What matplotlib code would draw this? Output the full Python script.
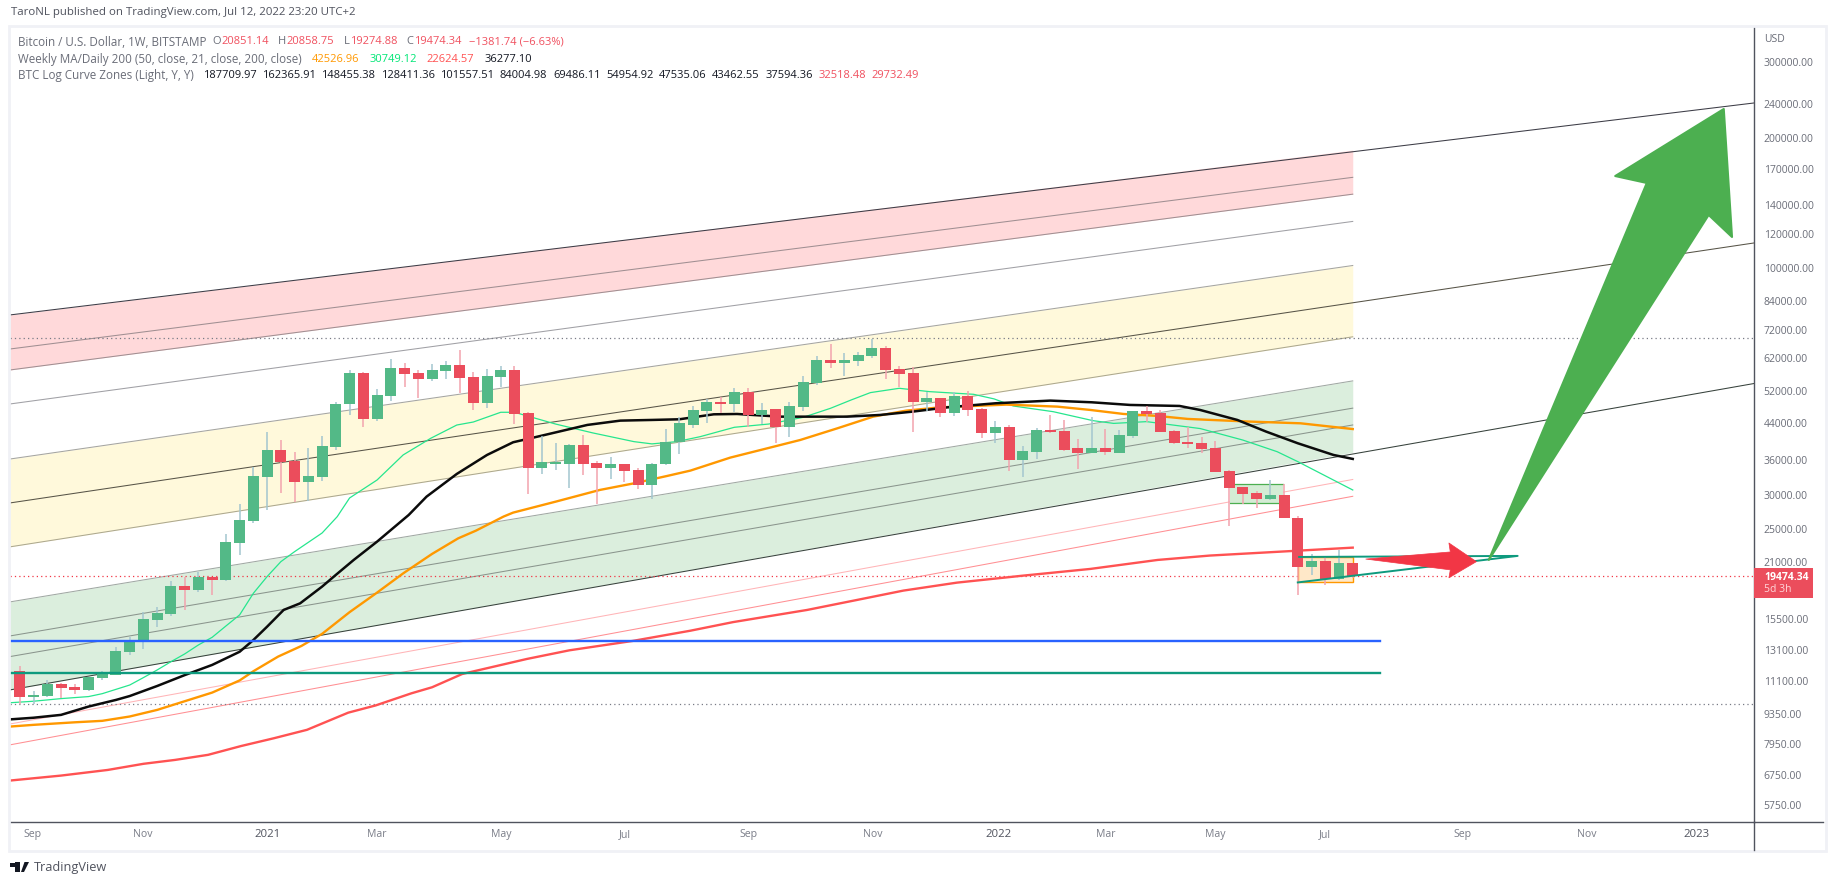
import matplotlib
matplotlib.use('Agg')
import matplotlib.pyplot as plt
from matplotlib.patches import Polygon, Rectangle
from matplotlib.lines import Line2D

W, H = 1834, 885
FONT = 'Open Sans'
plt.rcParams['font.family'] = [FONT, 'DejaVu Sans']

# weekly candles, first one is the week of Aug 31 2020
opens = [11740, 10220, 10280, 10950, 10780, 10610, 11310, 11490, 12985, 13700,
         15400, 15900, 18450, 18060, 19360, 19000, 23250, 26040, 32960, 38050,
         35900, 32090, 32960, 38660, 48600, 57330, 44880, 50730, 58880, 57330,
         55520, 57940, 59820, 56120, 48870, 56120, 58260, 46330, 34580, 35400,
         35400, 39060, 35510, 34580, 35320, 34200, 31590, 35320, 39700, 43460,
         46840, 49130, 48590, 51810, 45820, 47330, 43030, 47810, 54370, 61430,
         60450, 61100, 62740, 65480, 58550, 57320, 49120, 50180, 46330, 50720,
         47320, 41660, 43000, 36070, 37650, 42320, 42100, 38460, 37440, 38460,
         37440, 40990, 46820, 46330, 42100, 39710, 39500, 38470, 34030, 31250,
         30270, 29320, 29950, 26490, 20410, 21080, 19170, 20851.14]
highs = [12050, 10550, 11190, 11000, 10950, 11370, 11740, 13340, 14070, 16070,
         16500, 18950, 19360, 19880, 19360, 24320, 28500, 34800, 41900, 40200,
         37600, 38400, 41000, 49000, 58260, 57730, 52650, 61760, 60460, 58260,
         60140, 61110, 64790, 57630, 58560, 59500, 59500, 46580, 41000, 39490,
         39180, 41210, 35800, 36660, 35320, 34600, 35500, 42550, 45360, 48090,
         49910, 50450, 52900, 52940, 48870, 47330, 49130, 56410, 62750, 66890,
         63750, 64100, 68690, 66180, 59500, 59180, 51810, 50180, 51810, 52080,
         47500, 44400, 43450, 38870, 42760, 45840, 44640, 40350, 45350, 42550,
         42320, 46820, 48090, 47080, 42300, 43000, 40850, 39920, 34200, 31250,
         30590, 32440, 31760, 26800, 21870, 21530, 22350, 20858.75]
lows = [9850, 9850, 10200, 10170, 10385, 10550, 11190, 11480, 12780, 13200,
        14830, 15750, 16240, 17900, 17590, 18900, 21800, 25740, 27700, 30200,
        28800, 29000, 32260, 38050, 45900, 43000, 44500, 49400, 53200, 50180,
        54950, 55430, 51540, 47080, 47500, 53200, 43700, 30110, 33490, 34200,
        31080, 33310, 28550, 32600, 32090, 30920, 29310, 35100, 37250, 42770,
        43920, 46330, 46580, 43020, 43700, 39500, 40760, 46840, 53780, 58860,
        56410, 59490, 62090, 55520, 53210, 41870, 46820, 45350, 45590, 45590,
        40560, 39500, 34030, 32970, 36270, 41600, 37850, 34390, 37440, 37060,
        37440, 40560, 44160, 41870, 39280, 38460, 37450, 33850, 25400, 28540,
        27950, 29160, 26490, 17590, 19570, 18550, 19000, 19274.88]
closes = [10220, 10330, 10950, 10720, 10610, 11370, 11610, 13050, 13770, 15480,
          15980, 18450, 18060, 19360, 19050, 23300, 26220, 33110, 38050, 35700,
          32080, 33110, 38860, 48600, 57330, 44880, 51000, 58880, 57020, 55520,
          58260, 59820, 55820, 48870, 56420, 58260, 46080, 34580, 35700, 35700,
          39060, 35320, 34580, 35320, 34030, 31590, 35320, 39700, 43930, 47070,
          49130, 48590, 51810, 45820, 47070, 43030, 48090, 54650, 61430, 60450,
          61430, 63070, 65480, 58250, 57010, 49120, 50180, 46330, 50720, 47070,
          41660, 43000, 36070, 37850, 42320, 41870, 38050, 37440, 38460, 37650,
          41210, 46820, 46070, 41870, 39500, 39280, 38260, 33850, 31090, 30110,
          29320, 29950, 26490, 20410, 21080, 19170, 20850, 19474.34]

# moving averages: bar number, price
ma_green_x = [-0.7, 1, 3, 5, 6, 8, 9, 10, 11, 12, 13, 14, 15, 16, 17, 18, 19, 20, 22, 23.1, 24, 26, 27.9, 29.9, 31.8,
              33, 35, 36, 39, 41.7, 44.7, 46, 47.8, 49.5, 52, 54.5, 57, 59, 60.5, 61.9, 64, 66.2, 69.4, 70.9, 72.3,
              75.2, 78.1, 79.6, 82, 85.9, 89, 91.5, 93, 97]
ma_green_y = [9910, 9990, 10130, 10240, 10400, 10890, 11330, 11800, 12330, 12850, 13480, 14040, 14910, 15820, 17750,
              19400, 21000, 22150, 24460, 26680, 29470, 32430, 37060, 40480, 43450,
              44150, 46500, 46500, 43670, 41660, 39770, 39300, 39770, 40830, 42930, 43680, 45260, 47500, 49650, 51630,
              52830, 51900, 51170, 49930, 48080, 46650, 44470, 43830, 44240, 42640, 40110, 37700, 35760, 30749.12]
ma_black_x = [-0.7, 1, 3, 5, 7, 8, 10, 12, 14, 16, 17, 18, 19.2, 20.4, 22, 23, 24.3, 26, 28.3, 29.6, 31.8, 34, 35.9,
              37.9, 41.3, 43.7, 46, 48, 50.5, 52.2, 55.3, 57.7, 60.2, 62.6, 65, 67.5, 71, 75, 78, 80.8, 84.4, 85.9,
              88.6, 90.7, 93, 95.6, 97]
ma_black_y = [9070, 9150, 9290, 9710, 10060, 10270, 10835, 11480, 12120, 13000, 13840, 14860, 16240, 16820, 18390,
              19570, 21190, 23360, 26920, 29680, 33490, 37050, 39640, 41000, 43470, 44480, 44640, 44800, 46000, 46080,
              45430, 45430, 45430, 45840, 46670, 47740, 48780, 49480, 49040, 48350, 48090, 47070, 44640, 41950, 39430,
              37050, 36277.10]
ma_orange_x = [-0.7, 1, 4, 6, 8, 10, 12, 14, 16, 17, 18.8, 20.5, 22, 24, 26, 27.9, 30, 31.9, 33.2, 35.2, 35.9, 39,
               42.2, 44.7, 47.1, 48.8, 51.7, 54.4, 56.8, 59.5, 62.1, 64.5, 67, 71.8, 75.5, 77.9, 80.3, 82.8, 85, 89.5,
               93.2, 97]
ma_orange_y = [8730, 8810, 8930, 9000, 9210, 9540, 9990, 10460, 11160, 11720, 12670, 13410, 14300, 16050, 17810,
               19730, 21880, 23770, 24770, 26690, 27260, 28900, 30750, 31860, 33130, 34090, 36530, 38390, 40130, 42700,
               45430, 46910, 47750, 48430, 47920, 47080, 46090, 45600, 44880, 44250, 43850, 42526.96]
ma_red_x = [-0.7, 3, 6.4, 9, 11.3, 13.7, 16.1, 18.5, 20.9, 23.9, 25.9, 28.5, 30, 32.2, 36.9, 40, 44.6, 48.8, 51.9, 57.3,
            60.9, 64.3, 68.2, 73, 77.9, 82.8, 86.6, 97]
ma_red_y = [6550, 6725, 6930, 7160, 7310, 7510, 7870, 8205, 8580, 9400, 9770, 10420, 10760, 11550, 12510, 13100, 13770,
            14540, 15220, 16240, 17120, 18000, 18780, 19490, 20200, 21190, 21690, 22624.57]

# log curve zones: price at the left edge and at the last bar
curve_left = [78060, 65120, 58240, 48600, 36260, 28700, 22720, 16950, 14140, 12670, 10610, 8850, 7920]
curve_right = [187709.97, 162365.91, 148455.38, 128411.36, 101557.51, 84004.98, 69486.11, 54954.92, 47535.06,
               43462.55, 37594.36, 32518.48, 29732.49]
curve_colors = ['#3c3c46', '#a08f92', '#a08f92', '#a0a0a5', '#a5a5a0', '#575447', '#aca88f', '#a0a8a3', '#8a958d',
                '#8a958d', '#37423c', '#ffb5b8', '#ff8f93']
edge_prices = {0: 241200, 5: 114500, 10: 54190}

# drawings on the chart
level_top = 69060
level_bottom = 9830
level_blue = 13790
level_teal = 11640
green_box_x = [88.1, 91.9]
green_box_y = [28700, 31750]
orange_box_x = [93.0, 97.0]
orange_box_y = [18850, 21530]
tri_x = [93.1, 109.0, 93.0]
tri_y = [21530, 21650, 18800]
red_arrow_x = [97.95, 104.1, 104.0, 106.0, 104.0, 104.1]
red_arrow_y = [21290, 22110, 23190, 21000, 19270, 20100]
green_arrow_x = [106.9, 118.4, 116.1, 124.0, 124.6, 122.9]
green_arrow_y = [21190, 157560, 163500, 233600, 118200, 132900]

price_ticks = [300000, 240000, 200000, 170000, 140000, 120000, 100000, 84000, 72000, 62000, 52000, 44000, 36000, 30000,
               25000, 21000, 15500, 13100, 11100, 9350, 7950, 6750, 5750]
time_ticks = [0.96, 8.97, 18, 26, 35, 44, 53, 62.1, 71.2, 79, 87, 95, 105, 114, 122]
time_labels = ['Sep', 'Nov', '2021', 'Mar', 'May', 'Jul', 'Sep', 'Nov', '2022', 'Mar', 'May', 'Jul', 'Sep', 'Nov', '2023']

UP = '#53b987'
DOWN = '#eb4d5c'
UP_WICK = '#a3c6cf'
DOWN_WICK = '#f2a3ae'
GREY = '#6a6d78'


def px_x(x):
    return x / W


def px_y(y):
    return 1 - y / H


fig = plt.figure(figsize=(W / 100, H / 100), dpi=100, facecolor='white')

# light frame around the whole chart
fig.add_artist(Rectangle((px_x(8.5), px_y(851)), px_x(1817), 825 / H, transform=fig.transFigure,
                         fill=False, ec='#f0f1f6', lw=2))

ax = fig.add_axes([px_x(10), px_y(822), px_x(1744), 795 / H])
ax.set_yscale('log')
ax.set_xlim(-0.713, 126.2)
ax.set_ylim(5253, 361400)
last = len(opens) - 1
xl = -0.713

# zones
ax.fill_between([xl, last], [curve_left[0], curve_right[0]], [curve_left[2], curve_right[2]],
                color='#ffd9da', lw=0, zorder=1)
ax.fill_between([xl, last], [curve_left[4], curve_right[4]], [curve_left[6], curve_right[6]],
                color='#fff9db', lw=0, zorder=1)
ax.fill_between([xl, last], [curve_left[7], curve_right[7]], [curve_left[10], curve_right[10]],
                color='#dbeedd', lw=0, zorder=1)
for i in range(len(curve_left)):
    xs = [xl, last]
    ys = [curve_left[i], curve_right[i]]
    if i in edge_prices:
        xs = [xl, 126.2]
        ys = [curve_left[i], edge_prices[i]]
    ax.plot(xs, ys, color=curve_colors[i], lw=0.75, zorder=2)

# levels
ax.axhline(level_top, color='#787b86', lw=0.9, ls=(0, (1, 2.5)), zorder=3)
ax.axhline(level_bottom, color='#787b86', lw=0.9, ls=(0, (1, 2.5)), zorder=3)
ax.axhline(closes[-1], color='#f23645', lw=0.9, ls=(0, (1, 2.5)), zorder=3)

# moving averages
ax.plot(ma_red_x, ma_red_y, color='#ff5252', lw=1.7, zorder=4)
ax.plot(ma_green_x, ma_green_y, color='#26e68e', lw=0.9, zorder=4)
ax.plot(ma_orange_x, ma_orange_y, color='#ff9800', lw=1.7, zorder=4)
ax.plot(ma_black_x, ma_black_y, color='#0b0b0b', lw=1.8, zorder=4)

# boxes go under the candles
ax.add_patch(Rectangle((green_box_x[0], green_box_y[0]), green_box_x[1] - green_box_x[0], green_box_y[1] - green_box_y[0],
                       fc='#d4ecd5', ec='none', zorder=4.5))
for level in green_box_y:
    ax.plot(green_box_x, [level, level], color='#4caf50', lw=0.9, zorder=4.6)
ax.add_patch(Rectangle((orange_box_x[0], orange_box_y[0]), orange_box_x[1] - orange_box_x[0],
                       orange_box_y[1] - orange_box_y[0], fc='#ffe8c8', ec='#ff9800', lw=1, zorder=4.5))

# candles
for i in range(len(opens)):
    up = closes[i] >= opens[i]
    ax.vlines(i, lows[i], highs[i], color=UP_WICK if up else DOWN_WICK, lw=1.1, zorder=5)
    ax.bar(i, abs(closes[i] - opens[i]), bottom=min(opens[i], closes[i]), width=0.8,
           color=UP if up else DOWN, lw=0, zorder=6)

# horizontal lines and arrows sit on top
ax.plot([xl, 99], [level_blue, level_blue], color='#2962ff', lw=1.7, zorder=7)
ax.plot([xl, 99], [level_teal, level_teal], color='#0e9a7e', lw=1.7, zorder=7)
ax.plot(tri_x, tri_y, color='#0e9a7e', lw=1.4, zorder=7)
ax.add_patch(Polygon(list(zip(red_arrow_x, red_arrow_y)), closed=True, fc='#f23645', ec='#f23645', lw=0.5,
                     joinstyle='round', zorder=8))
ax.add_patch(Polygon(list(zip(green_arrow_x, green_arrow_y)), closed=True, fc='#4caf50', ec='#4caf50', lw=1.5,
                     joinstyle='round', zorder=8))

ax.set_yticks(price_ticks)
ax.set_yticklabels(['%.2f' % p for p in price_ticks], fontsize=7.5, color=GREY)
ax.minorticks_off()
ax.yaxis.tick_right()
ax.tick_params(axis='y', length=0, pad=7)
ax.set_xticks(time_ticks)
ax.set_xticklabels(time_labels, fontsize=7.6, color='#7a7d88')
for lab in ax.get_xticklabels():
    if lab.get_text().startswith('20'):
        lab.set_color('#50535e')
        lab.set_fontsize(8.2)
ax.tick_params(axis='x', length=0, pad=5)
for side in ['top', 'left']:
    ax.spines[side].set_visible(False)
for side in ['right', 'bottom']:
    ax.spines[side].set_color('#50535e')
    ax.spines[side].set_linewidth(1)

# the axis lines run on into the price and time panels
fig.add_artist(Line2D([px_x(1754), px_x(1823)], [px_y(822), px_y(822)], color='#50535e', lw=1))
fig.add_artist(Line2D([px_x(1754), px_x(1754)], [px_y(822), px_y(850)], color='#50535e', lw=1))

fig.text(px_x(1764), px_y(40), 'USD', fontsize=7.5, color=GREY, va='center')

# last price tag
fig.add_artist(Rectangle((px_x(1754), px_y(598)), 59 / W, 30 / H, transform=fig.transFigure, fc=DOWN, ec='none'))
fig.text(px_x(1764), px_y(577), '19474.34', fontsize=7.5, color='white', va='center', fontweight='bold')
fig.text(px_x(1764), px_y(590), '5d 3h', fontsize=7.5, color='#ffd5d9', va='center')

renderer = fig.canvas.get_renderer()
LABEL = 8.4
NUM = 8.0


def text_run(x, y, parts):
    # several colours on one row, each piece: text, colour, size, gap to the next one in pixels
    for s, color, size, gap in parts:
        t = fig.text(px_x(x), px_y(y), s, fontsize=size, color=color, va='center')
        x += t.get_window_extent(renderer).width + gap


RED = '#f0505f'
fig.text(px_x(11), px_y(13), 'TaroNL published on TradingView.com, Jul 12, 2022 23:20 UTC+2', fontsize=8.25,
         color='#50535e', va='center')
text_run(18, 42, [('Bitcoin / U.S. Dollar, 1W, BITSTAMP', GREY, LABEL, 6),
                  ('O', GREY, NUM, 0.5), ('20851.14', RED, NUM, 9),
                  ('H', GREY, NUM, 0.5), ('20858.75', RED, NUM, 9),
                  ('L', GREY, NUM, 0.5), ('19274.88', RED, NUM, 9),
                  ('C', GREY, NUM, 0.5), ('19474.34', RED, NUM, 8),
                  ('\u22121381.74 (\u22126.63%)', RED, NUM, 0)])
text_run(18, 59, [('Weekly MA/Daily 200 (50, close, 21, close, 200, close)', GREY, LABEL, 10),
                  ('42526.96', '#ff9800', NUM, 10), ('30749.12', '#00e676', NUM, 10),
                  ('22624.57', '#ff5252', NUM, 10), ('36277.10', '#131722', NUM, 0)])
zone_parts = [('BTC Log Curve Zones (Light, Y, Y)', GREY, LABEL, 9)]
for i, v in enumerate(curve_right):
    zone_parts.append(('%.2f' % v, '#f0505f' if i >= 11 else '#131722', NUM, 5.5))
text_run(18, 75, zone_parts)

# TradingView mark
fig.add_artist(Rectangle((px_x(10), px_y(867)), 10 / W, 4.5 / H, transform=fig.transFigure, fc='#131722', ec='none'))
fig.add_artist(Rectangle((px_x(15), px_y(872)), 4.5 / W, 10 / H, transform=fig.transFigure, fc='#131722', ec='none'))
fig.add_artist(Polygon([(px_x(21), px_y(872)), (px_x(24), px_y(872)), (px_x(29), px_y(862)), (px_x(24.5), px_y(862))],
                       closed=True, transform=fig.transFigure, fc='#131722', ec='none'))
fig.text(px_x(34), px_y(867.5), 'TradingView', fontsize=9.2, color='#50535e', va='center')

fig.savefig('out.png', dpi=100)
